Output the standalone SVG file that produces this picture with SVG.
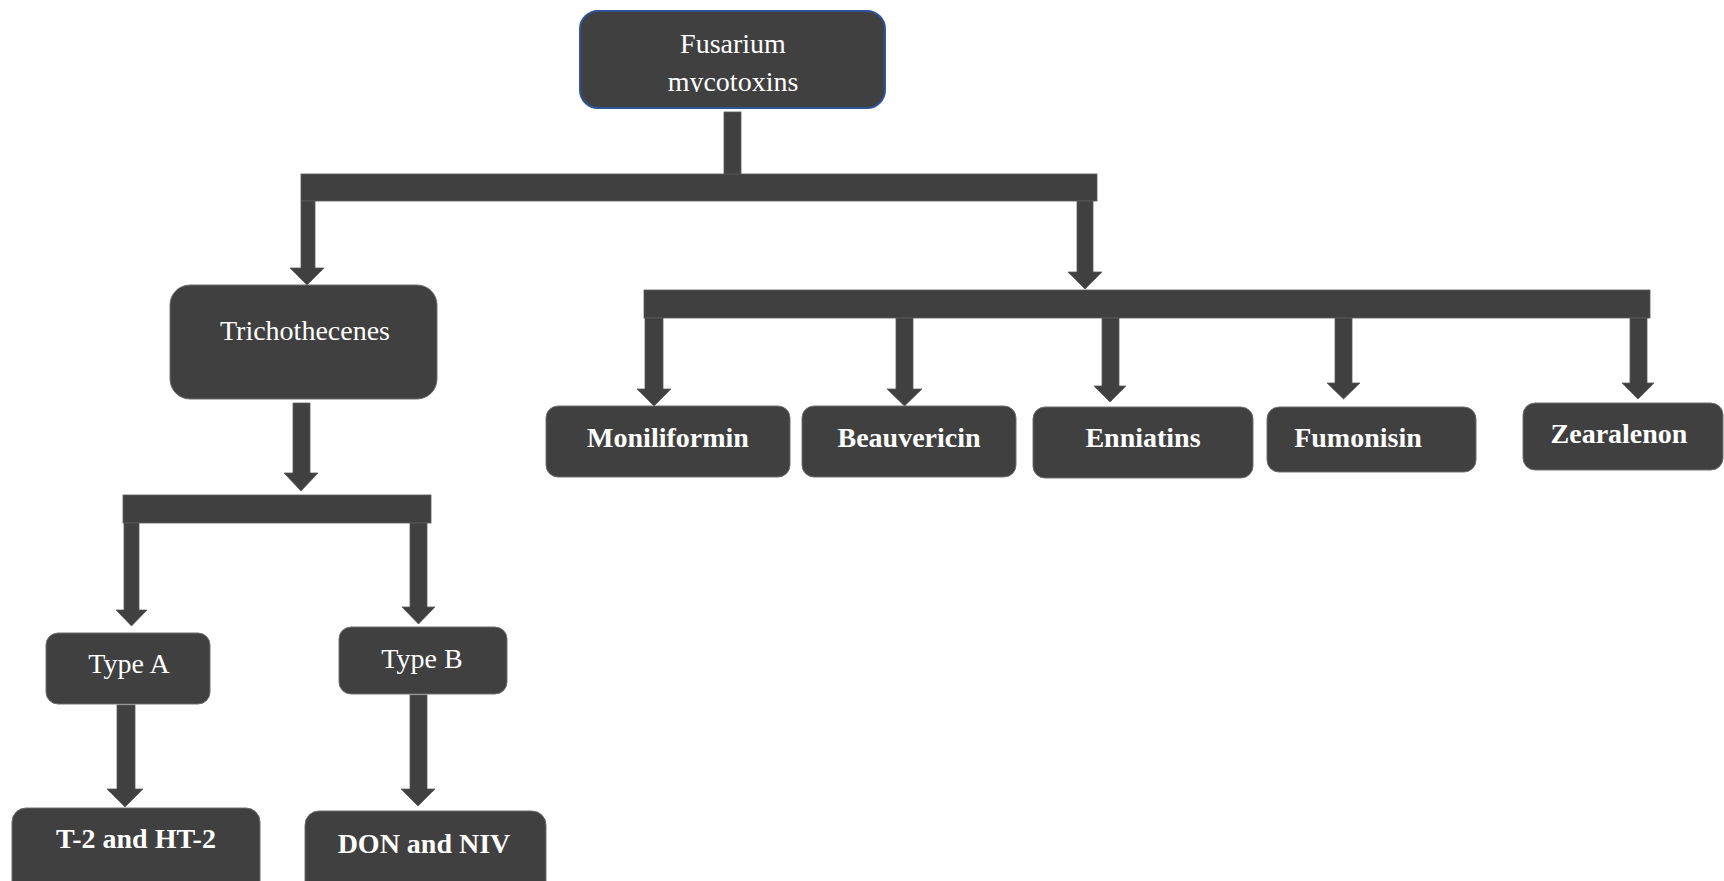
<svg xmlns="http://www.w3.org/2000/svg" width="1724" height="881" viewBox="0 0 1724 881">
<style>
.box{fill:#404040;stroke:#6e6e6e;stroke-width:1}
.top{fill:#404040;stroke:#2F5597;stroke-width:2}
.conn{fill:#404040;stroke:#5a5a5a;stroke-width:0.8}
.t{font-family:"Liberation Serif","Times New Roman",serif;font-size:28px;fill:#ffffff;text-anchor:middle}
.b{font-weight:bold}
</style>
<defs>
<clipPath id="topclip"><rect x="580" y="11" width="305" height="81"/></clipPath>
</defs>
<rect width="1724" height="881" fill="#ffffff"/>
<g id="connectors">
<rect class="conn" x="724" y="112" width="17" height="63"/>
<rect class="conn" x="301" y="174" width="796" height="27"/>
<path class="conn" d="M301,201 H315 V268 H324 L307,285 L290,268 H301 Z"/>
<path class="conn" d="M1077,201 H1093 V272 H1102 L1085,289 L1068,272 H1077 Z"/>
<rect class="conn" x="644" y="290" width="1006" height="28"/>
<path class="conn" d="M645,318 H663 V389 H671 L654,406 L637,389 H645 Z"/>
<path class="conn" d="M896,318 H913 V389 H922 L904.5,406 L887,389 H896 Z"/>
<path class="conn" d="M1102,318 H1119 V386 H1126 L1110,402 L1094,386 H1102 Z"/>
<path class="conn" d="M1335,318 H1352 V383 H1360 L1343.5,399 L1327,383 H1335 Z"/>
<path class="conn" d="M1630,318 H1647 V383 H1654 L1638,399 L1622,383 H1630 Z"/>
<path class="conn" d="M293,403 H310 V473 H318 L301,491 L284,473 H293 Z"/>
<rect class="conn" x="123" y="495" width="308" height="28"/>
<path class="conn" d="M124,523 H139 V610 H147 L131.5,626 L116,610 H124 Z"/>
<path class="conn" d="M410,523 H427 V607 H435 L418.5,624 L402,607 H410 Z"/>
<path class="conn" d="M117,705 H135 V789 H143 L125,807 L107,789 H117 Z"/>
<path class="conn" d="M410,695 H427 V789 H435 L418,806 L401,789 H410 Z"/>
</g>
<g id="fusarium">
<rect class="top" x="580" y="11" width="305" height="97" rx="18"/>
<g clip-path="url(#topclip)">
<text class="t" x="733" y="53">Fusarium</text>
<text class="t" x="733" y="91">mycotoxins</text>
</g>
</g>
<g id="trichothecenes">
<rect class="box" x="170" y="285" width="267" height="114" rx="20"/>
<text class="t" x="305" y="340">Trichothecenes</text>
</g>
<g id="typeA">
<rect class="box" x="46" y="633" width="164" height="71" rx="12"/>
<text class="t" x="129" y="673">Type A</text>
</g>
<g id="typeB">
<rect class="box" x="339" y="627" width="168" height="67" rx="12"/>
<text class="t" x="422" y="668">Type B</text>
</g>
<g id="t2">
<rect class="box" x="12" y="808" width="248" height="90" rx="14"/>
<text class="t b" x="136" y="848">T-2 and HT-2</text>
</g>
<g id="don">
<rect class="box" x="305" y="811" width="241" height="90" rx="14"/>
<text class="t b" x="424" y="853">DON and NIV</text>
</g>
<g id="moniliformin">
<rect class="box" x="546" y="406" width="244" height="71" rx="12"/>
<text class="t b" x="668" y="447">Moniliformin</text>
</g>
<g id="beauvericin">
<rect class="box" x="802" y="406" width="214" height="71" rx="12"/>
<text class="t b" x="909" y="447">Beauvericin</text>
</g>
<g id="enniatins">
<rect class="box" x="1033" y="407" width="220" height="71" rx="12"/>
<text class="t b" x="1143" y="447">Enniatins</text>
</g>
<g id="fumonisin">
<rect class="box" x="1267" y="407" width="209" height="65" rx="12"/>
<text class="t b" x="1358" y="447">Fumonisin</text>
</g>
<g id="zearalenon">
<rect class="box" x="1523" y="403" width="200" height="67" rx="12"/>
<text class="t b" x="1619" y="443">Zearalenon</text>
</g>
</svg>
